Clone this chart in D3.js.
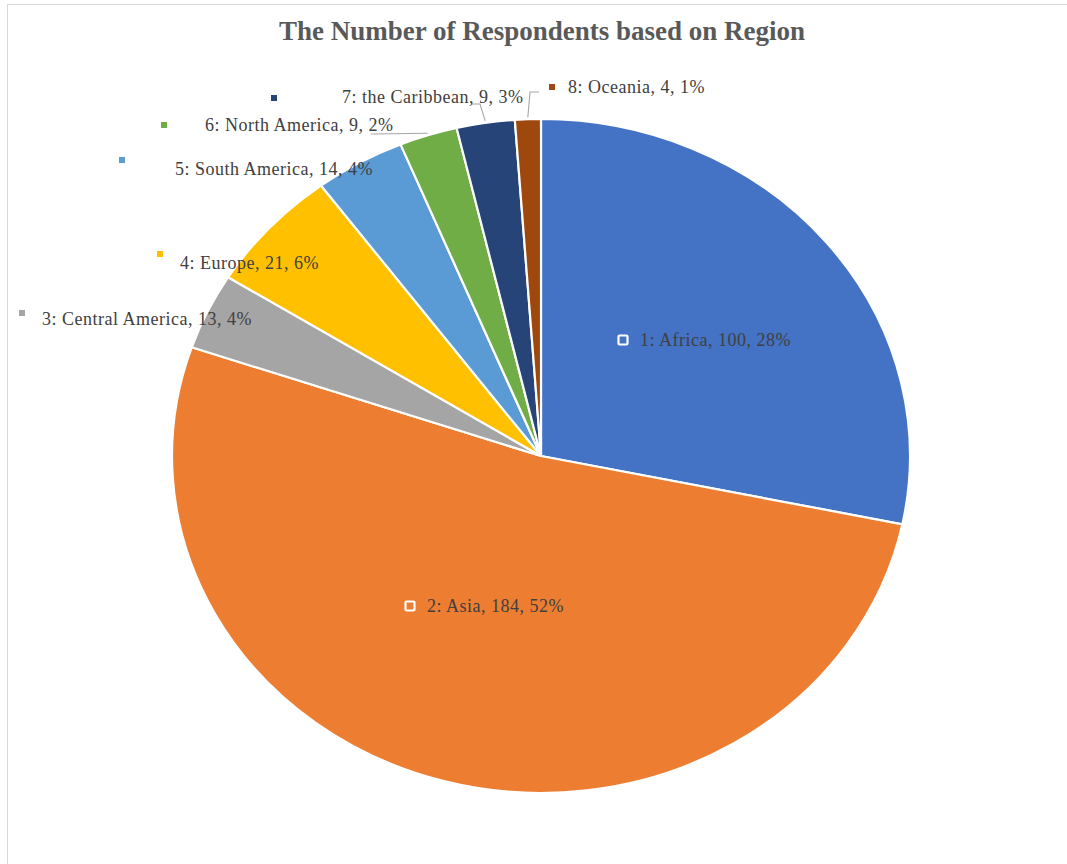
<!DOCTYPE html>
<html>
<head>
<meta charset="utf-8">
<script src="https://cdn.jsdelivr.net/npm/d3@7"></script>
<style>
  html, body { margin: 0; padding: 0; background: #fff; }
  svg { display: block; }
</style>
</head>
<body>
<script>
// ---- data ----
const categories = ["1: Africa", "2: Asia", "3: Central America", "4: Europe", "5: South America", "6: North America", "7: the Caribbean", "8: Oceania"];
const values = [100, 184, 13, 21, 14, 9, 9, 4];
const percentLabels = ["28%", "52%", "4%", "6%", "4%", "2%", "3%", "1%"];
const colors = ["#4472C4", "#ED7D31", "#A5A5A5", "#FFC000", "#5B9BD5", "#70AD47", "#264478", "#9E480E"];
const title = "The Number of Respondents based on Region";

// ---- layout (label placement, not data) ----
const labelLayout = [
  { kx: 623, ky: 340, tx: 640, ty: 342, inside: true },
  { kx: 410, ky: 606, tx: 427, ty: 608, inside: true },
  { kx: 22,  ky: 313, tx: 42,  ty: 321 },
  { kx: 160, ky: 254, tx: 180, ty: 265 },
  { kx: 122, ky: 160, tx: 175, ty: 171 },
  { kx: 164, ky: 125, tx: 205, ty: 127, leader: [[371, 134]] },
  { kx: 274, ky: 98,  tx: 342, ty: 99,  leader: [[471, 104], [480, 104]] },
  { kx: 552, ky: 87,  tx: 568, ty: 89,  leader: [[539, 92], [530, 92]] }
];

const W = 1067, H = 864;
const cx = 541, cy = 456, rx = 369, ry = 337;

const svg = d3.select("body").append("svg").attr("width", W).attr("height", H);

svg.append("rect").attr("x", 7.5).attr("y", 4.5).attr("width", W + 10).attr("height", H + 10)
  .attr("fill", "#fff").attr("stroke", "#D9D9D9").attr("stroke-width", 1);

const font = "'Liberation Serif', 'Times New Roman', serif";

svg.append("text").attr("x", 542).attr("y", 34)
  .attr("text-anchor", "middle").attr("dominant-baseline", "middle")
  .attr("font-family", font)
  .attr("font-weight", "bold").attr("font-size", 27).attr("fill", "#595959")
  .text(title);

const data = categories.map((c, i) => ({ name: c, value: values[i], pct: percentLabels[i], color: colors[i], lay: labelLayout[i] }));

const pie = d3.pie().value(d => d.value).sort(null).startAngle(0).endAngle(2 * Math.PI);
const arcs = pie(data);
const arc = d3.arc().innerRadius(0).outerRadius(rx);

const g = svg.append("g").attr("transform", `translate(${cx},${cy}) scale(1,${ry / rx})`);
g.selectAll("path").data(arcs).join("path")
  .attr("d", arc)
  .attr("fill", d => d.data.color)
  .attr("stroke", "#fff").attr("stroke-width", 2.2)
  .attr("vector-effect", "non-scaling-stroke")
  .attr("stroke-linejoin", "round");

arcs.forEach(a => {
  const lay = a.data.lay;
  if (!lay.leader) return;
  const mid = (a.startAngle + a.endAngle) / 2;
  const ex = cx + (rx + 2) * Math.sin(mid);
  const ey = cy - (ry + 2) * Math.cos(mid);
  const pts = lay.leader.concat([[ex, ey]]);
  svg.append("path").attr("d", d3.line()(pts))
    .attr("fill", "none").attr("stroke", "#A6A6A6").attr("stroke-width", 1.1);
});

arcs.forEach(a => {
  const d = a.data, lay = d.lay;
  if (lay.inside) {
    svg.append("rect").attr("x", lay.kx - 4.5).attr("y", lay.ky - 4.5).attr("width", 9).attr("height", 9)
      .attr("fill", d.color).attr("stroke", "#fff").attr("stroke-width", 2.2).attr("rx", 1);
  } else {
    svg.append("rect").attr("x", lay.kx - 3).attr("y", lay.ky - 3).attr("width", 6).attr("height", 6)
      .attr("fill", d.color);
  }
  svg.append("text").attr("x", lay.tx).attr("y", lay.ty)
    .attr("dominant-baseline", "middle")
    .attr("font-family", font).attr("font-size", 18).attr("letter-spacing", 0.5).attr("fill", "#404040")
    .text(`${d.name}, ${d.value}, ${d.pct}`);
});
</script>
</body>
</html>
